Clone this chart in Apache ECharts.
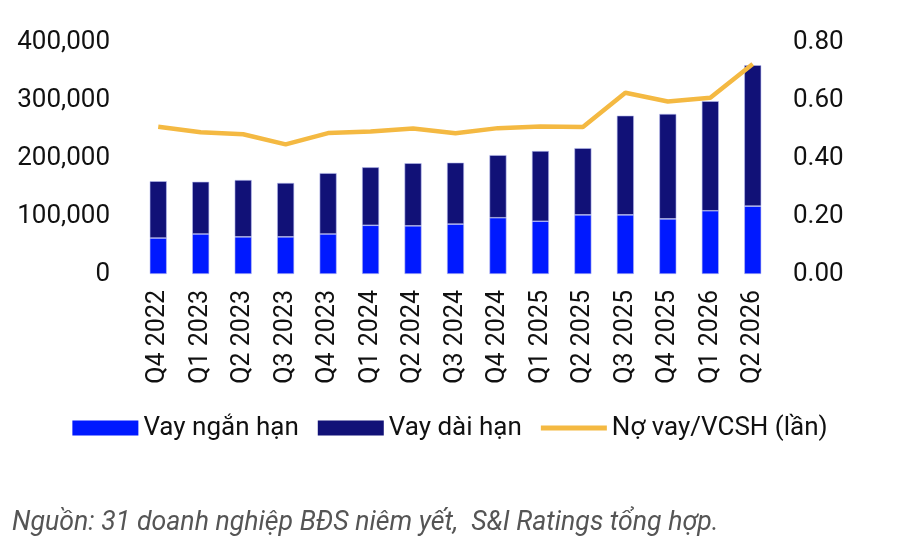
<!DOCTYPE html>
<html>
<head>
<meta charset="utf-8">
<script src="https://cdn.jsdelivr.net/npm/echarts@6/dist/echarts.min.js"></script>
<style>
  html, body { margin: 0; padding: 0; background: #fff; }
  #chart { width: 900px; height: 553px; }
</style>
</head>
<body>
<div id="chart"></div>
<script>
// quý
const quarters = ['Q4 2022', 'Q1 2023', 'Q2 2023', 'Q3 2023', 'Q4 2023', 'Q1 2024', 'Q2 2024',
  'Q3 2024', 'Q4 2024', 'Q1 2025', 'Q2 2025', 'Q3 2025', 'Q4 2025', 'Q1 2026', 'Q2 2026'];
// vay ngắn hạn (tỷ đồng)
const shortTerm = [62000, 69000, 64000, 64000, 69000, 84000, 83000, 86000, 97000, 91000, 102000, 102000, 95000, 109000, 117000];
// vay dài hạn (tỷ đồng)
const longTerm = [98000, 90000, 98000, 93000, 105000, 100000, 108000, 106000, 108000, 121000, 115000, 171000, 181000, 189000, 243000];
// nợ vay / VCSH
const debtRatio = [0.508, 0.489, 0.482, 0.447, 0.486, 0.491, 0.502, 0.485, 0.503, 0.509, 0.507, 0.625, 0.595, 0.608, 0.724];

const names = ['Vay ngắn hạn', 'Vay dài hạn', 'Nợ vay/VCSH (lần)'];
const font = 'Roboto';

let chart = echarts.init(document.getElementById('chart'));
let options = {
    animation: false,
    textStyle: { fontFamily: font },
    grid: { left: 137, right: 126, top: 42, bottom: 279, containLabel: false },
    legend: {
        top: 410,
        left: 'center',
        itemGap: 19,
        itemWidth: 66,
        itemHeight: 15,
        textStyle: { fontSize: 26, color: '#111', fontFamily: font },
        data: [
            { name: names[0], icon: 'rect', itemStyle: { borderWidth: 0 } },
            { name: names[1], icon: 'rect', itemStyle: { borderWidth: 0 } },
            // thin line icon; the stray moveTo points keep the full box height
            { name: names[2], icon: 'path://M0,0 M0,5 L66,5 L66,10 L0,10 Z M66,15', itemStyle: { borderWidth: 0 } }
        ]
    },
    xAxis: {
        type: 'category',
        data: quarters,
        axisLine: { show: false },
        axisTick: { show: false },
        axisLabel: { rotate: 90, fontSize: 25, color: '#111', margin: 16, interval: 0 }
    },
    yAxis: [{
        type: 'value',
        min: 0, max: 400000, interval: 100000,
        splitLine: { show: false },
        axisLabel: {
            fontSize: 26, color: '#111', margin: 27,
            formatter: v => v.toLocaleString('en-US')
        }
    }, {
        type: 'value',
        min: 0, max: 0.8, interval: 0.2,
        splitLine: { show: false },
        axisLabel: {
            fontSize: 26, color: '#111', margin: 19,
            formatter: v => v.toFixed(2)
        }
    }],
    series: [{
        name: names[0],
        type: 'bar',
        stack: 'debt',
        barWidth: 17,
        itemStyle: { color: '#0019FF', borderColor: '#b8bdf0', borderWidth: 0.6 },
        data: shortTerm
    }, {
        name: names[1],
        type: 'bar',
        stack: 'debt',
        barWidth: 17,
        itemStyle: { color: '#111177', borderColor: '#b8bdf0', borderWidth: 0.6 },
        data: longTerm
    }, {
        name: names[2],
        type: 'line',
        yAxisIndex: 1,
        symbol: 'none',
        lineStyle: { color: '#F4B942', width: 4.5 },
        itemStyle: { color: '#F4B942' },
        data: debtRatio
    }],
    graphic: [{
        type: 'text',
        left: 12,
        top: 510,
        style: {
            text: 'Nguồn: 31 doanh nghiệp BĐS niêm yết,  S&I Ratings tổng hợp.',
            font: 'italic 26.7px Roboto',
            fill: '#555'
        }
    }]
};
chart.setOption(options);
</script>
</body>
</html>
